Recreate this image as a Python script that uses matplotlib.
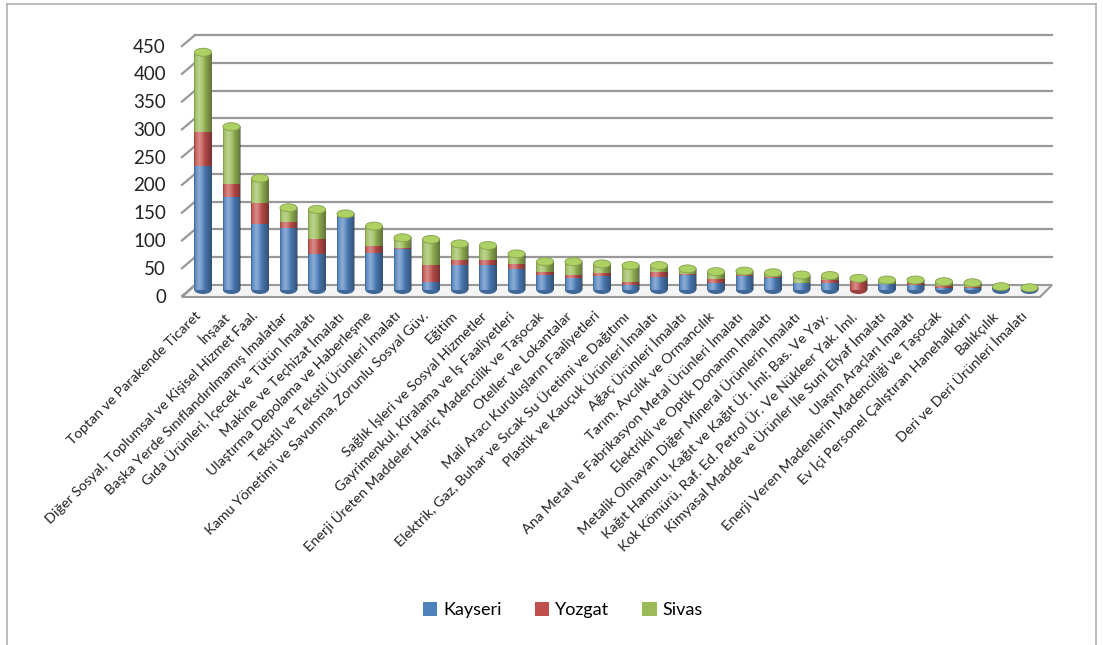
import numpy as np
import matplotlib
matplotlib.use("Agg")
import matplotlib.pyplot as plt
from matplotlib.patches import Ellipse, Polygon, Patch
from matplotlib.colors import to_rgb

plt.rcParams['font.family'] = ['Lato', 'DejaVu Sans']

# Data
categories = [
    "Toptan ve Parakende Ticaret",
    "İnşaat",
    "Diğer Sosyal, Toplumsal ve Kişisel Hizmet Faal.",
    "Başka Yerde Sınıflandırılmamış İmalatlar",
    "Gıda Ürünleri, İçecek ve Tütün İmalatı",
    "Makine ve Teçhizat İmalatı",
    "Ulaştırma Depolama ve Haberleşme",
    "Tekstil ve Tekstil Ürünleri İmalatı",
    "Kamu Yönetimi ve Savunma, Zorunlu Sosyal Güv.",
    "Eğitim",
    "Sağlık İşleri ve Sosyal Hizmetler",
    "Gayrimenkul, Kiralama ve İş Faaliyetleri",
    "Enerji Üreten Maddeler Hariç Madencilik ve Taşocak",
    "Oteller ve Lokantalar",
    "Mali Aracı Kuruluşların Faaliyetleri",
    "Elektrik, Gaz, Buhar ve Sıcak Su Üretimi ve Dağıtımı",
    "Plastik ve Kauçuk Ürünleri İmalatı",
    "Ağaç Ürünleri İmalatı",
    "Tarım, Avcılık ve Ormancılık",
    "Ana Metal ve Fabrikasyon Metal Ürünleri İmalatı",
    "Elektrikli ve Optik Donanım İmalatı",
    "Metalik Olmayan Diğer Mineral Ürünlerin İmalatı",
    "Kağıt Hamuru, Kağıt ve Kağıt Ür. İml; Bas. Ve Yay.",
    "Kok Kömürü, Raf. Ed. Petrol Ür. Ve Nükleer Yak. İml.",
    "Kimyasal Madde ve Ürünler İle Suni Elyaf İmalatı",
    "Ulaşım Araçları İmalatı",
    "Enerji Veren Madenlerin Madenciliği ve Taşocak",
    "Ev İçi Personel Çalıştıran Hanehalkları",
    "Balıkçılık",
    "Deri ve Deri Ürünleri İmalatı",
]
kayseri = [223, 167, 119, 112, 65, 131, 67, 73, 15, 45,
           45, 38, 27, 22, 25, 9, 24, 27, 13, 26,
           22, 12, 12, 0, 10, 9, 4, 4, 3, 1]
yozgat = [62, 24, 38, 11, 27, 1, 13, 3, 30, 9,
          9, 8, 6, 5, 5, 6, 9, 2, 6, 1,
          1, 0, 6, 16, 0, 4, 4, 1, 0, 0]
sivas = [143, 103, 44, 25, 53, 5, 35, 18, 46, 29,
         26, 19, 18, 24, 17, 29, 11, 9, 14, 7,
         8, 15, 8, 5, 8, 5, 7, 8, 3, 3]
series_names = ["Kayseri", "Yozgat", "Sivas"]
yticks = list(range(0, 451, 50))

colors = ["#4F81BD", "#C0504D", "#9BBB59"]

W, H = 1103, 645
fig = plt.figure(figsize=(W / 100, H / 100), dpi=100)

# pixel geometry (image coords, y down)
x0, dx = 203, 28.5     # first bar centre, bar spacing
y0, s = 290, 0.5555    # bar floor, px per unit
ax_l, ax_r, ax_t, ax_b = 170, 1058, 30, 302
ax = fig.add_axes([ax_l / W, 1 - ax_b / H, (ax_r - ax_l) / W, (ax_b - ax_t) / H])
ax.axis("off")


def fx(px):
    return px / W


def fy(py):
    return 1 - py / H


tf = fig.transFigure
grid_c = "#989898"

# floor
floor = Polygon([(fx(195), fy(y0 - 5)), (fx(1052), fy(y0 - 5)),
                 (fx(1040), fy(y0 + 7)), (fx(182), fy(y0 + 7))],
                closed=True, transform=tf, facecolor="#f4f4f4",
                edgecolor=grid_c, lw=1.5, zorder=0.5)
ax.add_patch(floor)

# back-wall gridlines with slanted left side
for v in yticks:
    yb = y0 - 5 - s * v
    yf = y0 + 6 - s * v
    if v > 0:
        ax.plot([fx(195), fx(1052)], [fy(yb), fy(yb)], transform=tf,
                color=grid_c, lw=1.6, zorder=0.6, clip_on=False)
    ax.plot([fx(182), fx(195)], [fy(yf), fy(yb)], transform=tf,
            color=grid_c, lw=1.6, zorder=0.6, clip_on=False)
    fig.text(fx(166), fy(yf + 1), str(v), ha="right", va="center",
             fontsize=13.5, color="#222222")

# stacked bars
xs = np.arange(len(categories))
width = 0.6
vals = np.array([kayseri, yozgat, sivas], dtype=float)
bottom = np.zeros(len(categories))
for name, v, c in zip(series_names, vals, colors):
    ax.bar(xs, v, width, bottom=bottom, color=c, label=name, zorder=2)
    bottom += v
totals = bottom

# cylinder shading overlay
t = np.linspace(0, 1, 64)
hi = np.clip(1 - np.abs(t - 0.3) / 0.3, 0, 1) * 0.35
sh = np.clip((t - 0.5) / 0.5, 0, 1) * 0.38 + np.clip((0.1 - t) / 0.1, 0, 1) * 0.2
grad = np.zeros((1, 64, 4))
grad[0, :, :3] = np.where((hi > sh)[:, None], 1.0, 0.0)
grad[0, :, 3] = np.maximum(hi, sh)

cap_h = 8 / s
for i, x in enumerate(xs):
    top = totals[i]
    ax.imshow(grad, extent=[x - width / 2, x + width / 2, 0, top],
              aspect="auto", zorder=3, interpolation="bilinear")
    nz = [k for k in range(3) if vals[k, i] > 0]
    top_c = np.array(to_rgb(colors[nz[-1]]))
    bot_c = np.array(to_rgb(colors[nz[0]])) * 0.8
    ax.add_patch(Ellipse((x, 0), width, cap_h, facecolor=bot_c, lw=0, zorder=1.9))
    ax.add_patch(Ellipse((x, top), width, cap_h,
                         facecolor=np.clip(top_c * 1.12, 0, 1),
                         edgecolor=top_c * 0.85, lw=0.6, zorder=4))

ax.set_xlim((ax_l - x0) / dx, (ax_r - x0) / dx)
ax.set_ylim(-(ax_b - y0) / s, (y0 - ax_t) / s)

# category labels
for i, name in enumerate(categories):
    fig.text(fx(x0 + dx * i - 4), fy(314), name, rotation=45,
             rotation_mode="anchor", ha="right", va="center",
             fontsize=10.4, color="#222222")

# legend
handles = [Patch(facecolor=c, edgecolor="none") for c in colors]
fig.legend(handles, series_names, loc="center",
           bbox_to_anchor=(fx(563), fy(610)), ncol=3, frameon=False,
           fontsize=13, handlelength=0.8, handleheight=0.8,
           handletextpad=0.35, columnspacing=1.8)

# outer frame
for xa, ya in [([7, 7], [4, 645]), ([7, 1096], [4, 4]), ([1096, 1096], [4, 645])]:
    fig.add_artist(plt.Line2D([fx(p) for p in xa], [fy(p) for p in ya],
                              transform=tf, color="#b0b0b0", lw=1.2))

fig.savefig("out.png", dpi=100)
